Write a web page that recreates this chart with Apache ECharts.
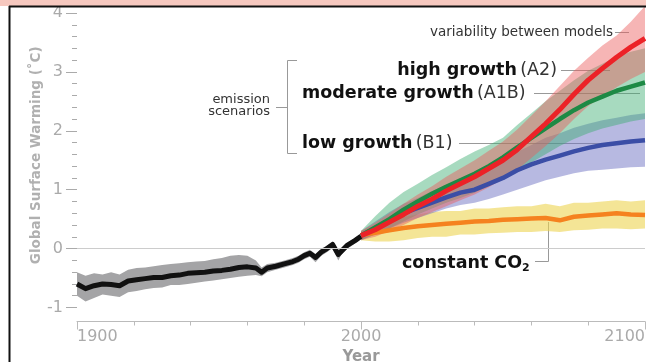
<!DOCTYPE html>
<html>
<head>
<meta charset="utf-8">
<script src="https://cdn.jsdelivr.net/npm/echarts@6/dist/echarts.min.js"></script>
<style>
html,body{margin:0;padding:0;background:#fff;}
#chart{width:646px;height:362px;}
</style>
</head>
<body>
<div id="chart"></div>
<script>
// observed record 1900-2000
var histYears = [1900,1903,1906,1909,1912,1915,1918,1921,1924,1927,1930,1933,1936,1939,1942,1945,1948,1951,1954,1957,1960,1963,1965,1967,1970,1973,1976,1978,1980,1982,1984,1986,1988,1990,1992,1993,1995,1998,2000];
var histMean = [-0.60,-0.68,-0.63,-0.60,-0.61,-0.63,-0.55,-0.53,-0.51,-0.49,-0.49,-0.46,-0.45,-0.42,-0.41,-0.40,-0.38,-0.37,-0.35,-0.32,-0.31,-0.33,-0.40,-0.33,-0.30,-0.26,-0.22,-0.18,-0.12,-0.08,-0.15,-0.06,0.00,0.07,-0.10,-0.05,0.05,0.14,0.21];
var histLow = [-0.80,-0.90,-0.84,-0.78,-0.80,-0.82,-0.74,-0.72,-0.69,-0.67,-0.66,-0.62,-0.62,-0.60,-0.58,-0.56,-0.54,-0.52,-0.50,-0.48,-0.46,-0.45,-0.47,-0.40,-0.36,-0.32,-0.28,-0.24,-0.18,-0.14,-0.23,-0.12,-0.06,0.01,-0.20,-0.11,-0.01,0.09,0.16];
var histHigh = [-0.40,-0.46,-0.42,-0.44,-0.40,-0.44,-0.36,-0.33,-0.32,-0.30,-0.28,-0.26,-0.25,-0.23,-0.22,-0.21,-0.18,-0.16,-0.12,-0.11,-0.12,-0.20,-0.32,-0.26,-0.24,-0.20,-0.16,-0.12,-0.06,-0.02,-0.09,0.00,0.05,0.12,-0.02,0.01,0.10,0.19,0.26];

// scenarios 2000-2100
var scenYears = [2000,2005,2010,2015,2020,2025,2030,2035,2040,2045,2050,2055,2060,2065,2070,2075,2080,2085,2090,2095,2100];
var a2Mean  = [0.22,0.32,0.45,0.58,0.72,0.84,0.98,1.10,1.22,1.36,1.50,1.68,1.90,2.12,2.36,2.62,2.86,3.06,3.25,3.42,3.57];
var a2Low   = [0.14,0.20,0.30,0.40,0.52,0.62,0.72,0.82,0.92,1.04,1.18,1.34,1.54,1.74,1.96,2.20,2.42,2.58,2.74,2.88,3.00];
var a2High  = [0.30,0.44,0.60,0.76,0.92,1.06,1.22,1.36,1.50,1.66,1.82,2.02,2.26,2.50,2.76,3.02,3.24,3.45,3.62,3.85,4.12];
var a1bMean = [0.22,0.36,0.50,0.66,0.80,0.93,1.05,1.16,1.27,1.40,1.55,1.72,1.88,2.04,2.20,2.35,2.48,2.58,2.68,2.75,2.82];
var a1bLow  = [0.14,0.24,0.34,0.46,0.58,0.68,0.78,0.86,0.95,1.06,1.18,1.32,1.46,1.60,1.74,1.86,1.96,2.04,2.10,2.16,2.20];
var a1bHigh = [0.30,0.55,0.78,0.96,1.10,1.25,1.38,1.52,1.65,1.76,1.88,2.10,2.30,2.50,2.68,2.86,3.02,3.14,3.26,3.34,3.40];
var b1Mean  = [0.22,0.35,0.48,0.60,0.69,0.78,0.87,0.95,1.00,1.10,1.20,1.33,1.43,1.51,1.58,1.65,1.71,1.76,1.79,1.82,1.84];
var b1Low   = [0.14,0.24,0.34,0.44,0.52,0.60,0.68,0.74,0.78,0.84,0.92,1.00,1.08,1.16,1.22,1.28,1.32,1.34,1.36,1.38,1.39];
var b1High  = [0.30,0.46,0.62,0.76,0.86,0.98,1.08,1.18,1.26,1.38,1.50,1.64,1.76,1.88,1.96,2.05,2.12,2.18,2.22,2.27,2.30];
var co2Mean = [0.23,0.27,0.31,0.35,0.38,0.40,0.42,0.44,0.46,0.47,0.49,0.50,0.51,0.52,0.48,0.54,0.56,0.58,0.60,0.58,0.57];
var co2Low  = [0.14,0.12,0.12,0.14,0.18,0.20,0.20,0.24,0.24,0.26,0.27,0.28,0.28,0.30,0.28,0.31,0.32,0.34,0.34,0.33,0.34];
var co2High = [0.30,0.40,0.48,0.54,0.58,0.62,0.64,0.64,0.68,0.68,0.70,0.72,0.72,0.76,0.72,0.78,0.78,0.80,0.82,0.80,0.82];

var yTicks = [-1,0,1,2,3,4];
var xTicks = [1900,2000,2100];

var font = "'DejaVu Sans', sans-serif";
var chart = echarts.init(document.getElementById('chart'));

function pairs(xs, ys){
	var out = [];
	for(var i=0;i<xs.length;i++){ out.push([xs[i], ys[i]]); }
	return out;
}
// band as one polygon through the axes
function band(name, xs, lo, hi, color, z){
	var rows = [];
	for(var i=0;i<xs.length;i++){ rows.push([xs[i], lo[i], hi[i]]); }
	return {
		name: name,
		type: 'custom',
		z: z,
		silent: true,
		encode: {x: 0, y: [1, 2]},
		data: rows,
		renderItem: function(params, api){
			if(params.dataIndex !== 0) return;
			var pts = [];
			for(var i=0;i<xs.length;i++){ pts.push(api.coord([xs[i], hi[i]])); }
			for(var j=xs.length-1;j>=0;j--){ pts.push(api.coord([xs[j], lo[j]])); }
			return {type: 'polygon', shape: {points: pts}, style: {fill: color}};
		}
	};
}
function line(name, xs, ys, color, w, z){
	return {
		name: name, type: 'line', z: z, silent: true,
		showSymbol: false, symbol: 'none',
		lineStyle: {color: color, width: w, join: 'round'},
		data: pairs(xs, ys)
	};
}
function rich(size){
	return {
		b: {fontFamily: font, fontSize: size, fontWeight: 'bold', fill: '#111'},
		n: {fontFamily: font, fontSize: size, fill: '#333'},
		s: {fontFamily: font, fontSize: 11, fontWeight: 'bold', fill: '#111', padding: [11, 0, 0, 0]}
	};
}

var leader = {stroke: '#999', lineWidth: 1};
var option = {
	animation: false,
	grid: {left: 77, right: 1, top: 13, bottom: 54.5, outerBoundsMode: 'none', containLabel: false},
	xAxis: {
		type: 'value', min: 1900, max: 2100, interval: 100, offset: 14,
		axisLine: {show: true, onZero: false, lineStyle: {color: '#bbb', width: 1}},
		axisTick: {show: true, length: 8, lineStyle: {color: '#bbb'}},
		minorTick: {show: true, splitNumber: 5, length: 4, lineStyle: {color: '#bbb'}},
		splitLine: {show: false},
		axisLabel: {
			color: '#aaa', fontSize: 16, fontFamily: font, margin: 7,
			alignMinLabel: 'left', alignMaxLabel: 'right',
			formatter: function(v){ return xTicks.indexOf(v) >= 0 ? String(v) : ''; }
		},
		name: 'Year', nameLocation: 'middle', nameGap: 28,
		nameTextStyle: {color: '#999', fontSize: 15, fontWeight: 'bold', fontFamily: font}
	},
	yAxis: {
		type: 'value', min: -1, max: 4, interval: 1,
		axisLine: {show: false},
		axisTick: {show: true, length: 11, lineStyle: {color: '#aaa'}},
		minorTick: {show: true, splitNumber: 5, length: 5, lineStyle: {color: '#aaa'}},
		splitLine: {show: false},
		axisLabel: {
			color: '#aaa', fontSize: 16, fontFamily: font, margin: 14,
			formatter: function(v){ return yTicks.indexOf(v) >= 0 ? String(v) : ''; }
		},
		name: 'Global Surface Warming (˚C)', nameLocation: 'middle', nameGap: 34, nameMoveOverlap: false,
		nameTextStyle: {color: '#b0b0b0', fontSize: 13.5, fontWeight: 'bold', fontFamily: font, padding: [0, 0, 0, 10]}
	},
	series: [
		band('histBand', histYears, histLow, histHigh, '#a4a4a6', 1),
		band('co2Band', scenYears, co2Low, co2High, 'rgba(236,212,80,0.6)', 1),
		band('b1Band', scenYears, b1Low, b1High, 'rgba(112,116,196,0.5)', 1),
		band('a1bBand', scenYears, a1bLow, a1bHigh, 'rgba(60,172,112,0.45)', 1),
		band('a2Band', scenYears, a2Low, a2High, 'rgba(236,92,92,0.45)', 1),
		(function(){
			var s = line('hist', histYears, histMean, '#111', 5, 3);
			s.markLine = {
				silent: true, symbol: 'none', label: {show: false},
				lineStyle: {color: '#ccc', width: 1, type: 'solid'},
				data: [{yAxis: 0}]
			};
			return s;
		})(),
		line('constant CO2', scenYears, co2Mean, '#f5821f', 4.5, 3),
		line('B1', scenYears, b1Mean, '#3b4ea6', 4.5, 3),
		line('A1B', scenYears, a1bMean, '#1d8a45', 4.5, 3),
		line('A2', scenYears, a2Mean, '#ec2227', 5, 3)
	],
	graphic: [
		// leader lines and bracket (under the data)
		{type: 'line', z: 0, shape: {x1: 615, y1: 32.5, x2: 629, y2: 32.5}, style: leader},
		{type: 'line', z: 0, shape: {x1: 561, y1: 70.5, x2: 610, y2: 70.5}, style: leader},
		{type: 'line', z: 0, shape: {x1: 534, y1: 93.5, x2: 640, y2: 93.5}, style: leader},
		{type: 'line', z: 0, shape: {x1: 459, y1: 143.5, x2: 625, y2: 143.5}, style: leader},
		{type: 'polyline', z: 0, shape: {points: [[535, 261.5], [548.5, 261.5], [548.5, 222]]}, style: {stroke: '#999', lineWidth: 1, fill: null}},
		{type: 'polyline', z: 0, shape: {points: [[297, 60.5], [287.5, 60.5], [287.5, 153.5], [297, 153.5]]}, style: {stroke: '#999', lineWidth: 1, fill: null}},
		{type: 'line', z: 0, shape: {x1: 276, y1: 107.5, x2: 287.5, y2: 107.5}, style: leader},
		// labels
		{type: 'text', z: 10, x: 613, y: 32, style: {text: 'variability between models', fill: '#333', font: '13.5px ' + font, textAlign: 'right', textVerticalAlign: 'middle'}},
		{type: 'text', z: 10, x: 270, y: 100, style: {text: 'emission', fill: '#333', font: '13px ' + font, textAlign: 'right', textVerticalAlign: 'middle'}},
		{type: 'text', z: 10, x: 270, y: 111.5, style: {text: 'scenarios', fill: '#333', font: '13px ' + font, textAlign: 'right', textVerticalAlign: 'middle'}},
		{type: 'text', z: 10, x: 557, y: 70, style: {
			text: '{b|high growth} {n|(A2)}', textAlign: 'right', textVerticalAlign: 'middle', rich: rich(17.5)
		}},
		{type: 'text', z: 10, x: 302, y: 93, style: {
			text: '{b|moderate growth} {n|(A1B)}', textAlign: 'left', textVerticalAlign: 'middle', rich: rich(17.5)
		}},
		{type: 'text', z: 10, x: 302, y: 143, style: {
			text: '{b|low growth} {n|(B1)}', textAlign: 'left', textVerticalAlign: 'middle', rich: rich(17.5)
		}},
		{type: 'text', z: 10, x: 402, y: 263, style: {
			text: '{b|constant CO}{s|2}', textAlign: 'left', textVerticalAlign: 'middle', rich: rich(17.5)
		}},
		// frame
		{type: 'rect', z: 100, shape: {x: 0, y: 0, width: 646, height: 6}, style: {fill: '#f6c8bf'}},
		{type: 'line', z: 100, shape: {x1: 9, y1: 6.5, x2: 646, y2: 6.5}, style: {stroke: '#111', lineWidth: 2}},
		{type: 'line', z: 100, shape: {x1: 9.5, y1: 6, x2: 9.5, y2: 362}, style: {stroke: '#111', lineWidth: 2}}
	]
};
chart.setOption(option);
</script>
</body>
</html>
